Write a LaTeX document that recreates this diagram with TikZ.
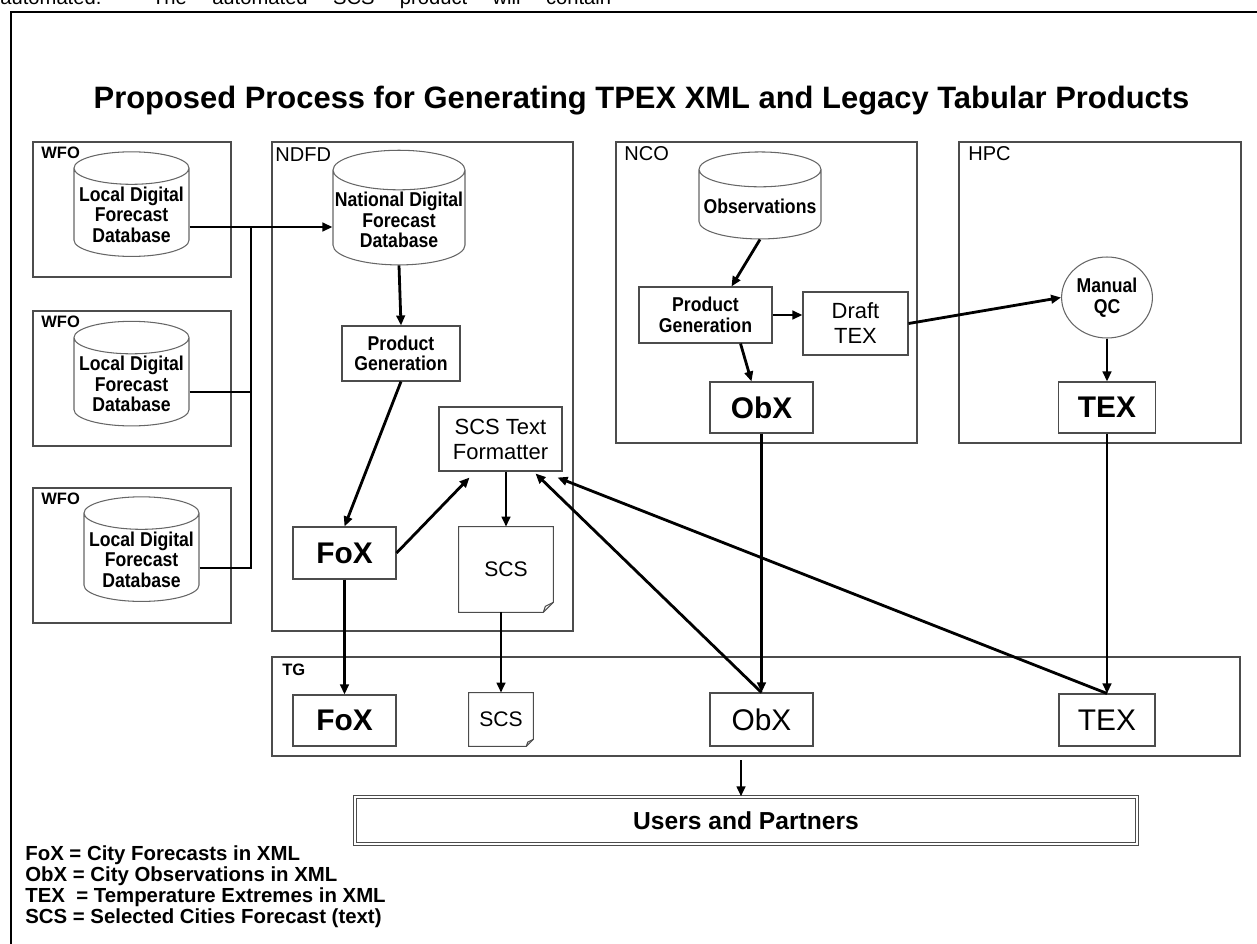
\documentclass[tikz,border=0pt]{standalone}
\usepackage{fontspec}
\setmainfont{Liberation Sans}
\newfontfamily\narrowfont{Liberation Sans}[FakeStretch=0.88]
\usetikzlibrary{shapes.geometric,arrows.meta,calc,positioning}

\newcommand{\dbfont}{\fontsize{11.4}{11.7}\narrowfont\bfseries}
\newcommand{\txtfont}{\fontsize{12.5}{14.2}\selectfont}
\newcommand{\bigfont}{\fontsize{17}{20}\selectfont}
% outline of a sheet with a folded corner
\newcommand{\docedge}[2]{%
  \draw[outl] (#1.north west) -- (#1.north east) -- ($(#1.south east)+(0,-#2)$)
     -- ($(#1.south east)+(-#2,0)$) -- (#1.south west) -- cycle;
  \draw[outl] ($(#1.south east)+(0,-#2)$) -- ($(#1.south east)+(-0.8*#2,-0.6*#2)$) -- ($(#1.south east)+(-#2,0)$);
}

\begin{document}
\begin{tikzpicture}[x=0.02cm, y=-0.02cm,
    outl/.style={draw=black!70, line width=0.6pt},
    grplbl/.style={anchor=west, inner sep=0pt, font=\fontsize{11.4}{13}\selectfont},
    box/.style={draw=black!70, line width=0.6pt, rectangle, align=center, inner sep=1pt},
    db/.style={draw=black!60, line width=0.6pt, cylinder, shape border rotate=90, aspect=0.3, align=center, inner sep=1pt, font=\dbfont},
    xbox/.style={box, font=\bigfont\bfseries},
    doc/.style={rectangle, align=center, inner sep=1pt, font=\fontsize{12}{14}\selectfont},
    flow/.style={line width=1.6pt},
    arr/.style={flow, -{Triangle[length=0.2cm,width=0.17cm]}}
]
    \useasboundingbox (0,0) rectangle (1257,943);
    \node [anchor=base west, inner sep=0pt, font=\fontsize{11.5}{13}\selectfont] (toptext) at (0,5)
        {\makebox[12.22cm][s]{automated.\ \ The automated SCS product will contain}};
    \draw [line width=0.05cm] (11,960) -- (11,12) -- (1270,12);
    \node [anchor=base, font=\fontsize{17.6}{20}\selectfont\bfseries] (title) at (641.5,108)
        {Proposed Process for Generating TPEX XML and Legacy Tabular Products};

    % Groups
    \foreach \i/\y in {1/142, 2/311, 3/488} {
        \draw [outl] (33,\y) rectangle ++(198,135);
        \node [grplbl, font=\fontsize{9.4}{11}\selectfont\bfseries] (wfo\i) at (41,\y+11) {WFO};
    }
    \draw [outl] (272,142) rectangle (573,631);
    \node [grplbl] (ndfdlbl) at (275,155) {NDFD};
    \draw [outl] (616,142) rectangle (917,443);
    \node [grplbl] (ncolbl) at (624,154) {NCO};
    \draw [outl] (959,142) rectangle (1241,443);
    \node [grplbl] (hpclbl) at (968,154) {HPC};
    \draw [outl] (272,657) rectangle (1240,756);
    \node [grplbl, font=\fontsize{9.4}{11}\selectfont\bfseries] (tglbl) at (282,670) {TG};

    % WFO databases
    \node [db, minimum width=2.3cm, minimum height=1.66cm] (lcyl1) at (131.5,214.5) {Local Digital\\Forecast\\Database};
    \node [db, minimum width=2.3cm, minimum height=1.64cm] (lcyl2) at (131.5,384) {Local Digital\\Forecast\\Database};
    \node [db, minimum width=2.3cm, minimum height=1.66cm] (lcyl3) at (141.5,559.5) {Local Digital\\Forecast\\Database};

    % NDFD
    \node [db, minimum width=2.64cm, minimum height=1.88cm] (ncyl) at (399,220) {National Digital\\Forecast\\Database};
    \node [box, font=\dbfont, minimum width=2.36cm, minimum height=1.1cm] (pgn) at (401,353.5) {Product\\Generation};
    \node [box, font=\txtfont, minimum width=2.46cm, minimum height=1.28cm] (fmt) at (500.5,439) {SCS Text\\Formatter};
    \node [xbox, minimum width=2.06cm, minimum height=1.04cm] (foxn) at (344.5,553) {FoX};
    \node [doc, minimum width=1.88cm, minimum height=1.7cm] (scsn) at (506,569.5) {SCS};
    \docedge{scsn}{10}

    % NCO
    \node [db, minimum width=2.44cm, minimum height=1.74cm] (obs) at (760,206.5) {Observations};
    \node [box, font=\dbfont, minimum width=2.66cm, minimum height=1.12cm] (pgc) at (705.5,315) {Product\\Generation};
    \node [box, font=\txtfont, minimum width=2.1cm, minimum height=1.26cm] (draft) at (855.5,323.5) {Draft\\TEX};
    \node [xbox, minimum width=2.06cm, minimum height=1.02cm] (obxn) at (761.5,407.5) {ObX};

    % HPC
    \node [ellipse, draw=black!60, line width=0.6pt, align=center, inner sep=1pt, font=\dbfont,
        minimum width=1.76cm, minimum height=1.62cm] (qc) at (1107,297.5) {Manual\\QC};
    \node [xbox, minimum width=1.94cm, minimum height=1.02cm] (texh) at (1107,407.5) {TEX};

    % TG
    \node [xbox, minimum width=2.06cm, minimum height=1.02cm] (foxt) at (344.5,720.5) {FoX};
    \node [doc, minimum width=1.28cm, minimum height=1.06cm] (scst) at (501,719.5) {SCS};
    \docedge{scst}{7}
    \node [box, font=\bigfont, minimum width=2.06cm, minimum height=1.06cm] (obxt) at (761.5,719.5) {ObX};
    \node [box, font=\bigfont, minimum width=1.92cm, minimum height=1.04cm] (text) at (1107,720) {TEX};

    \node [draw=black!70, double, double distance=0.03cm, line width=0.7pt, minimum width=15.64cm,
        minimum height=0.94cm, font=\fontsize{14}{16}\selectfont\bfseries] (users) at (746,820.5) {Users and Partners};

    % Legend
    \foreach \i/\txt in {0/{FoX = City Forecasts in XML}, 1/{ObX = City Observations in XML},
        2/{TEX\ \ = Temperature Extremes in XML}, 3/{SCS = Selected Cities Forecast (text)}} {
        \node [anchor=base west, inner sep=0pt, font=\fontsize{11.6}{13}\selectfont\bfseries] (leg\i) at (25,860+21*\i) {\txt};
    }

    % Connectors
    \coordinate (j1) at (251,227);
    \coordinate (j2) at (251,392);
    \coordinate (j3) at (251,568);
    \draw [flow] (lcyl3.east |- j3) -- (j3) -- (j1);
    \draw [flow] (lcyl2.east |- j2) -- (j2);
    \draw [arr] (lcyl1.east |- j1) -- (ncyl.west |- j1);

    \draw [arr] (ncyl.south) -- (pgn.north);
    \draw [arr] (pgn.south) -- (foxn.north);
    \draw [arr] (foxn.east) -- ($(fmt.south)+(-31,6)$);
    \draw [arr] (scsn.north |- fmt.south) -- (scsn.north);
    \draw [arr] (foxn.south) -- (foxt.north);
    \draw [arr] (scst.north |- scsn.south) -- (scst.north);

    \draw [arr] (obs.south) -- ($(pgc.north)+(26,0)$);
    \draw [arr] (pgc.east) -- (draft.west |- pgc.east);
    \draw [arr] ($(pgc.south)+(35,0)$) -- ($(obxn.north)+(-10,0)$);
    \draw [arr] (draft.east) -- (qc.west);
    \draw [arr] (qc.south) -- (texh.north);
    \draw [arr] (obxn.south) -- (obxt.north);
    \draw [arr] (texh.south) -- (text.north);
    \draw [arr] (obxt.north) -- ($(fmt.south east)+(-27,2)$);
    \draw [arr] (text.north) -- ($(fmt.south east)+(-5,6)$);

    \coordinate (tgout) at (741,760);
    \draw [arr] (tgout) -- (tgout |- users.north);
\end{tikzpicture}
\end{document}
